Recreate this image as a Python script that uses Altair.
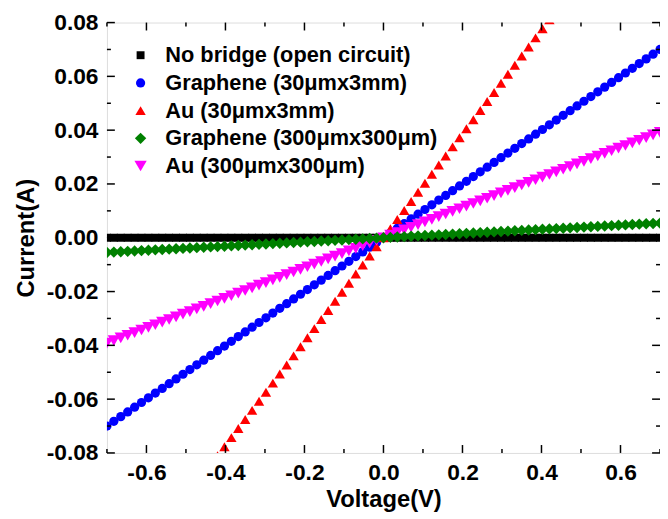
import altair as alt
import pandas as pd

voltage = [-0.7000, -0.6825, -0.6650, -0.6475, -0.6300, -0.6125, -0.5950, -0.5775, -0.5600, -0.5425,
           -0.5250, -0.5075, -0.4900, -0.4725, -0.4550, -0.4375, -0.4200, -0.4025, -0.3850, -0.3675,
           -0.3500, -0.3325, -0.3150, -0.2975, -0.2800, -0.2625, -0.2450, -0.2275, -0.2100, -0.1925,
           -0.1750, -0.1575, -0.1400, -0.1225, -0.1050, -0.0875, -0.0700, -0.0525, -0.0350, -0.0175,
           0.0000,
           0.0175, 0.0350, 0.0525, 0.0700, 0.0875, 0.1050, 0.1225, 0.1400, 0.1575, 0.1750,
           0.1925, 0.2100, 0.2275, 0.2450, 0.2625, 0.2800, 0.2975, 0.3150, 0.3325, 0.3500,
           0.3675, 0.3850, 0.4025, 0.4200, 0.4375, 0.4550, 0.4725, 0.4900, 0.5075, 0.5250,
           0.5425, 0.5600, 0.5775, 0.5950, 0.6125, 0.6300, 0.6475, 0.6650, 0.6825, 0.7000]

i_open = [0.0, 0.0, 0.0, 0.0, 0.0, 0.0, 0.0, 0.0, 0.0, 0.0,
          0.0, 0.0, 0.0, 0.0, 0.0, 0.0, 0.0, 0.0, 0.0, 0.0,
          0.0, 0.0, 0.0, 0.0, 0.0, 0.0, 0.0, 0.0, 0.0, 0.0,
          0.0, 0.0, 0.0, 0.0, 0.0, 0.0, 0.0, 0.0, 0.0, 0.0,
          0.0,
          0.0, 0.0, 0.0, 0.0, 0.0, 0.0, 0.0, 0.0, 0.0, 0.0,
          0.0, 0.0, 0.0, 0.0, 0.0, 0.0, 0.0, 0.0, 0.0, 0.0,
          0.0, 0.0, 0.0, 0.0, 0.0, 0.0, 0.0, 0.0, 0.0, 0.0,
          0.0, 0.0, 0.0, 0.0, 0.0, 0.0, 0.0, 0.0, 0.0, 0.0]

i_gr_long = [-0.07000, -0.06825, -0.06650, -0.06475, -0.06300, -0.06125, -0.05950, -0.05775, -0.05600, -0.05425,
             -0.05250, -0.05075, -0.04900, -0.04725, -0.04550, -0.04375, -0.04200, -0.04025, -0.03850, -0.03675,
             -0.03500, -0.03325, -0.03150, -0.02975, -0.02800, -0.02625, -0.02450, -0.02275, -0.02100, -0.01925,
             -0.01750, -0.01575, -0.01400, -0.01225, -0.01050, -0.00875, -0.00700, -0.00525, -0.00350, -0.00175,
             0.00000,
             0.00175, 0.00350, 0.00525, 0.00700, 0.00875, 0.01050, 0.01225, 0.01400, 0.01575, 0.01750,
             0.01925, 0.02100, 0.02275, 0.02450, 0.02625, 0.02800, 0.02975, 0.03150, 0.03325, 0.03500,
             0.03675, 0.03850, 0.04025, 0.04200, 0.04375, 0.04550, 0.04725, 0.04900, 0.05075, 0.05250,
             0.05425, 0.05600, 0.05775, 0.05950, 0.06125, 0.06300, 0.06475, 0.06650, 0.06825, 0.07000]

i_au_long = [-0.13510, -0.13172, -0.12835, -0.12497, -0.12159, -0.11821, -0.11484, -0.11146, -0.10808, -0.10470,
             -0.10133, -0.09795, -0.09457, -0.09119, -0.08782, -0.08444, -0.08106, -0.07768, -0.07431, -0.07093,
             -0.06755, -0.06417, -0.06080, -0.05742, -0.05404, -0.05066, -0.04729, -0.04391, -0.04053, -0.03715,
             -0.03378, -0.03040, -0.02702, -0.02364, -0.02027, -0.01689, -0.01351, -0.01013, -0.00676, -0.00338,
             0.00000,
             0.00338, 0.00676, 0.01013, 0.01351, 0.01689, 0.02027, 0.02364, 0.02702, 0.03040, 0.03378,
             0.03715, 0.04053, 0.04391, 0.04729, 0.05066, 0.05404, 0.05742, 0.06080, 0.06417, 0.06755,
             0.07093, 0.07431, 0.07768, 0.08106, 0.08444, 0.08782, 0.09119, 0.09457, 0.09795, 0.10133,
             0.10470, 0.10808, 0.11146, 0.11484, 0.11821, 0.12159, 0.12497, 0.12835, 0.13172, 0.13510]

i_gr_sq = [-0.00546, -0.00532, -0.00519, -0.00505, -0.00491, -0.00478, -0.00464, -0.00450, -0.00437, -0.00423,
           -0.00410, -0.00396, -0.00382, -0.00369, -0.00355, -0.00341, -0.00328, -0.00314, -0.00300, -0.00287,
           -0.00273, -0.00259, -0.00246, -0.00232, -0.00218, -0.00205, -0.00191, -0.00177, -0.00164, -0.00150,
           -0.00137, -0.00123, -0.00109, -0.00096, -0.00082, -0.00068, -0.00055, -0.00041, -0.00027, -0.00014,
           0.00000,
           0.00014, 0.00027, 0.00041, 0.00055, 0.00068, 0.00082, 0.00096, 0.00109, 0.00123, 0.00137,
           0.00150, 0.00164, 0.00177, 0.00191, 0.00205, 0.00218, 0.00232, 0.00246, 0.00259, 0.00273,
           0.00287, 0.00300, 0.00314, 0.00328, 0.00341, 0.00355, 0.00369, 0.00382, 0.00396, 0.00410,
           0.00423, 0.00437, 0.00450, 0.00464, 0.00478, 0.00491, 0.00505, 0.00519, 0.00532, 0.00546]

i_au_sq = [-0.03920, -0.03822, -0.03724, -0.03626, -0.03528, -0.03430, -0.03332, -0.03234, -0.03136, -0.03038,
           -0.02940, -0.02842, -0.02744, -0.02646, -0.02548, -0.02450, -0.02352, -0.02254, -0.02156, -0.02058,
           -0.01960, -0.01862, -0.01764, -0.01666, -0.01568, -0.01470, -0.01372, -0.01274, -0.01176, -0.01078,
           -0.00980, -0.00882, -0.00784, -0.00686, -0.00588, -0.00490, -0.00392, -0.00294, -0.00196, -0.00098,
           0.00000,
           0.00098, 0.00196, 0.00294, 0.00392, 0.00490, 0.00588, 0.00686, 0.00784, 0.00882, 0.00980,
           0.01078, 0.01176, 0.01274, 0.01372, 0.01470, 0.01568, 0.01666, 0.01764, 0.01862, 0.01960,
           0.02058, 0.02156, 0.02254, 0.02352, 0.02450, 0.02548, 0.02646, 0.02744, 0.02842, 0.02940,
           0.03038, 0.03136, 0.03234, 0.03332, 0.03430, 0.03528, 0.03626, 0.03724, 0.03822, 0.03920]

series_names = ["No bridge (open circuit)", "Graphene (30\u03bcmx3mm)", "Au (30\u03bcmx3mm)",
                "Graphene (300\u03bcmx300\u03bcm)", "Au (300\u03bcmx300\u03bcm)"]
series_values = [i_open, i_gr_long, i_au_long, i_gr_sq, i_au_sq]
series_colors = ["#000000", "#0000ff", "#ff0000", "#008000", "#ff00ff"]
series_shapes = ["square", "circle", "triangle-up", "diamond", "triangle-down"]
series_sizes = [64, 155, 230, 160, 210]
draw_order = [0, 1, 2, 4, 3]

x_major = [-0.6, -0.4, -0.2, 0.0, 0.2, 0.4, 0.6]
x_minor = [-0.7, -0.5, -0.3, -0.1, 0.1, 0.3, 0.5, 0.7]
y_major = [-0.08, -0.06, -0.04, -0.02, 0.0, 0.02, 0.04, 0.06, 0.08]
y_minor = [-0.07, -0.05, -0.03, -0.01, 0.01, 0.03, 0.05, 0.07]

rows = []
for k in draw_order:
    for v, c in zip(voltage, series_values[k]):
        rows.append({"V": v, "I": c, "series": series_names[k], "ord": draw_order.index(k)})
df = pd.DataFrame(rows)

W, H = 559, 435
FONT = "Liberation Sans"

xs = alt.Scale(domain=[-0.7, 0.7], nice=False, zero=False)
ys = alt.Scale(domain=[-0.08, 0.08], nice=False, zero=False)

x_axis = alt.Axis(values=x_major, labelExpr="replace(format(datum.value, '.1f'), '\u2212', '-')",
                  labelFontSize=23, labelFont=FONT,
                  labelFontWeight="bold", labelColor="#000", ticks=False, domain=False,
                  grid=False, labelPadding=9, titleFontSize=24, titleFont=FONT,
                  titleFontWeight="bold", titleColor="#000", titlePadding=3)
y_axis = alt.Axis(values=y_major, labelExpr="replace(format(datum.value, '.2f'), '\u2212', '-')",
                  labelFontSize=23, labelFont=FONT,
                  labelFontWeight="bold", labelColor="#000", ticks=False, domain=False,
                  grid=False, labelPadding=9, titleFontSize=24, titleFont=FONT,
                  titleFontWeight="bold", titleColor="#000", titlePadding=8)

points = alt.Chart(df).mark_point(filled=True, opacity=1, clip=True, strokeWidth=0).encode(
    x=alt.X("V:Q", scale=xs, title="Voltage(V)", axis=x_axis),
    y=alt.Y("I:Q", scale=ys, title="Current(A)", axis=y_axis),
    color=alt.Color("series:N", scale=alt.Scale(domain=series_names, range=series_colors),
                    legend=alt.Legend(title=None, orient="none", legendX=23, legendY=22,
                                      labelFontSize=22, labelFont=FONT, labelFontWeight="bold",
                                      labelColor="#000", symbolSize=64, rowPadding=6,
                                      labelOffset=14, padding=0, symbolStrokeWidth=0,
                                      labelLimit=500)),
    shape=alt.Shape("series:N", scale=alt.Scale(domain=series_names, range=series_shapes)),
    size=alt.Size("series:N", scale=alt.Scale(domain=series_names, range=series_sizes), legend=None),
    order=alt.Order("ord:Q"),
)

xmaj = pd.DataFrame({"V": x_major})
xmin = pd.DataFrame({"V": x_minor})
ymaj = pd.DataFrame({"I": y_major})
ymin = pd.DataFrame({"I": y_minor})

def xticks(d, length, bottom):
    y0 = H if bottom else 0
    y1 = H - length if bottom else length
    return alt.Chart(d).mark_rule(color="#000", strokeWidth=1.5).encode(
        x=alt.X("V:Q", scale=xs, title="Voltage(V)", axis=x_axis), y=alt.value(y0), y2=alt.value(y1))

def yticks(d, length, left):
    x0 = 0 if left else W
    x1 = length if left else W - length
    return alt.Chart(d).mark_rule(color="#000", strokeWidth=1.5).encode(
        y=alt.Y("I:Q", scale=ys, title="Current(A)", axis=y_axis), x=alt.value(x0), x2=alt.value(x1))

ticks = [xticks(xmaj, 8, True), xticks(xmin, 4, True), xticks(xmaj, 8, False), xticks(xmin, 4, False),
         yticks(ymaj, 8, True), yticks(ymin, 4, True), yticks(ymaj, 8, False), yticks(ymin, 4, False)]

chart = alt.layer(points, *ticks).properties(
    width=W, height=H,
    autosize=alt.AutoSizeParams(type="none"),
    padding={"left": 100, "top": 12, "right": 0, "bottom": 60},
).configure_view(stroke="#000", strokeWidth=1.5).configure(background="white")

chart.save("out.html", embed_options={"renderer": "svg", "actions": False})
